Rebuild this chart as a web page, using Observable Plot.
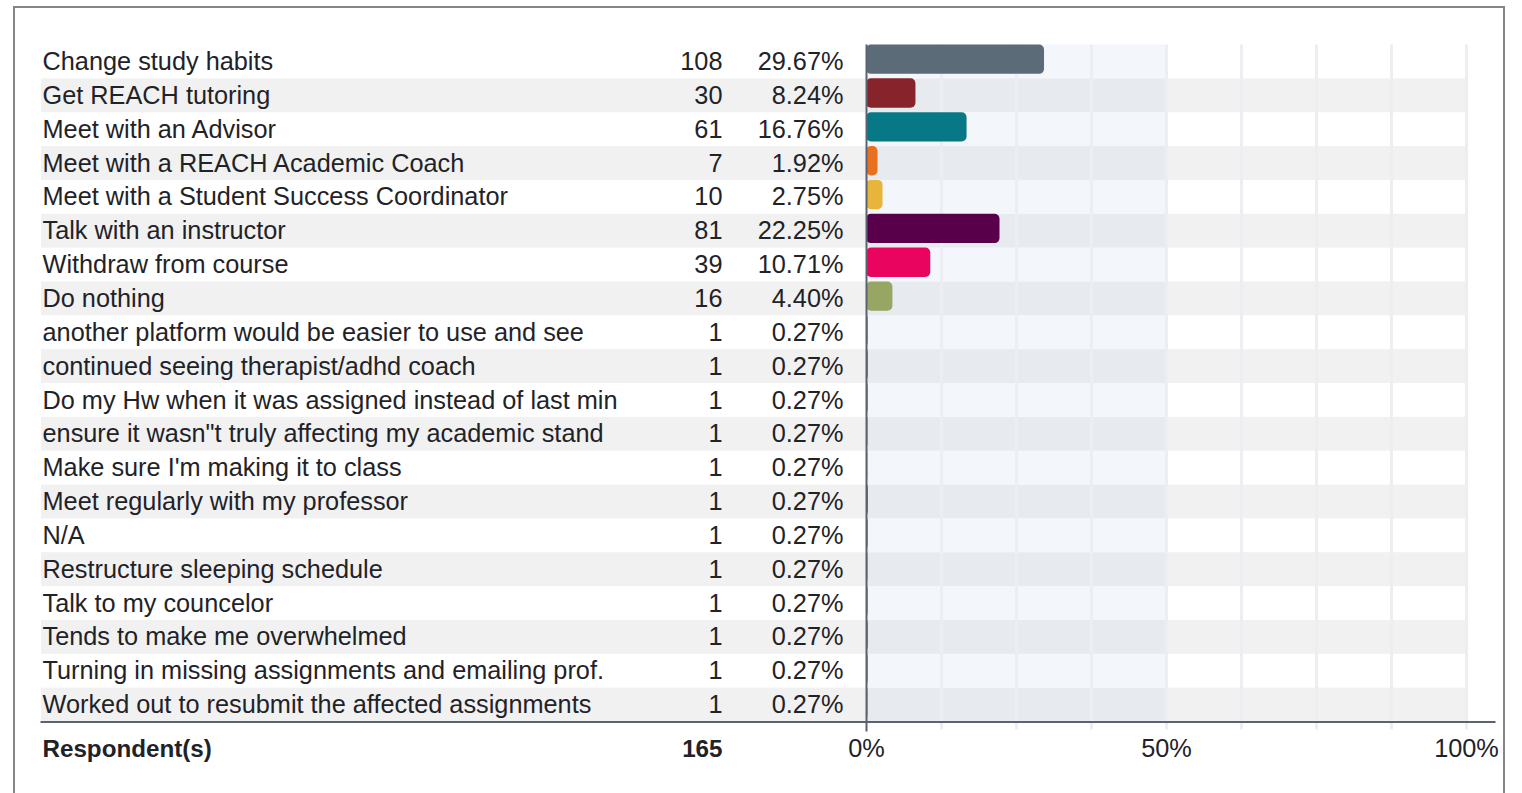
<!DOCTYPE html>
<html>
<head>
<meta charset="utf-8">
<script src="https://cdn.jsdelivr.net/npm/d3@7"></script>
<script src="https://cdn.jsdelivr.net/npm/@observablehq/plot@0.6"></script>
<style>
  html, body { margin: 0; padding: 0; background: #fff; overflow: hidden; }
  #wrap { position: relative; width: 1522px; height: 793px; }
  #border { position: absolute; left: 13px; top: 6px; width: 1492px; height: 900px;
            border: 2px solid #858585; box-sizing: border-box; }
  #chart { position: absolute; left: 0; top: 0; }
</style>
</head>
<body>
<div id="wrap"><div id="border"></div><div id="chart"></div></div>
<script>
const labels = [
  "Change study habits",
  "Get REACH tutoring",
  "Meet with an Advisor",
  "Meet with a REACH Academic Coach",
  "Meet with a Student Success Coordinator",
  "Talk with an instructor",
  "Withdraw from course",
  "Do nothing",
  "another platform would be easier to use and see",
  "continued seeing therapist/adhd coach",
  "Do my Hw when it was assigned instead of last min",
  "ensure it wasn\"t truly affecting my academic stand",
  "Make sure I'm making it to class",
  "Meet regularly with my professor",
  "N/A",
  "Restructure sleeping schedule",
  "Talk to my councelor",
  "Tends to make me overwhelmed",
  "Turning in missing assignments and emailing prof.",
  "Worked out to resubmit the affected assignments"
];
const counts = [108, 30, 61, 7, 10, 81, 39, 16, 1, 1, 1, 1, 1, 1, 1, 1, 1, 1, 1, 1];
const percents = [29.67, 8.24, 16.76, 1.92, 2.75, 22.25, 10.71, 4.40,
  0.27, 0.27, 0.27, 0.27, 0.27, 0.27, 0.27, 0.27, 0.27, 0.27, 0.27, 0.27];
const barColors = ["#5b6b78", "#87232b", "#077886", "#e8701f", "#e6b53a", "#58004a", "#e8045f", "#97a663",
  "#5b6b78", "#87232b", "#077886", "#e8701f", "#e6b53a", "#58004a", "#e8045f", "#97a663",
  "#5b6b78", "#87232b", "#077886", "#e8701f"];
const totalLabel = "Respondent(s)";
const totalRespondents = 165;
const axisTicks = [0, 50, 100];
const gridTicks = [12.5, 25, 37.5, 50, 62.5, 75, 87.5, 100];

const rows = labels.map((label, i) => ({label, count: counts[i], pct: percents[i], i}));
const oddRows = rows.filter(d => d.i % 2 === 1);
const evenRows = rows.filter(d => d.i % 2 === 0);

const FONT = "Liberation Sans, Arial, sans-serif";
const FS = 25.3;
const FSB = 24.2;
const TXT = "#1f2328";
const labelLeft = 41, zeroX = 866, fullX = 1466;

const chart = Plot.plot({
  width: 1522,
  height: 793,
  marginLeft: labelLeft,
  marginRight: 28,
  marginTop: 44.5,
  marginBottom: 71.5,
  style: {fontFamily: FONT, fontSize: FS + "px", color: TXT, background: "transparent", overflow: "visible"},
  x: {domain: [0, 100], range: [zeroX, fullX], axis: null},
  y: {domain: labels, padding: 0, round: false, axis: null},
  color: {domain: labels, range: barColors},
  marks: [
    // row stripes across label area and plot
    Plot.barX(oddRows, {y: "label", x1: 0, x2: 100, fill: "#f1f1f1", insetLeft: -(zeroX - labelLeft)}),
    Plot.barX(oddRows, {y: "label", x1: 0, x2: 50, fill: "#e7eaef"}),
    Plot.barX(evenRows, {y: "label", x1: 0, x2: 50, fill: "#f3f6fb"}),
    // grid
    Plot.ruleX(gridTicks, {x: d => d, stroke: "#eceef3", strokeWidth: 3, insetBottom: -8}),
    // bars
    Plot.barX(rows, {y: "label", x1: 0, x2: "pct", fill: "label", rx: 5, insetBottom: 4.5}),
    // zero line
    Plot.ruleX([0], {stroke: "#5a6372", strokeWidth: 2, insetBottom: -10}),
    // baseline
    Plot.frame({anchor: "bottom", stroke: "#5a6372", strokeWidth: 2}),
    // labels
    Plot.text(rows, {y: "label", text: "label", frameAnchor: "left", textAnchor: "start", dx: 1, fill: TXT, fontSize: FS}),
    Plot.text(rows, {y: "label", text: d => String(d.count), frameAnchor: "left", textAnchor: "end", dx: 722 - labelLeft, fill: TXT, fontSize: FS}),
    Plot.text(rows, {y: "label", text: d => d.pct.toFixed(2) + "%", frameAnchor: "left", textAnchor: "end", dx: 843 - labelLeft, fill: TXT, fontSize: FS}),
    // axis tick labels
    Plot.text(axisTicks, {x: d => d, text: d => d + "%", frameAnchor: "bottom", lineAnchor: "middle", dy: 27, fill: TXT, fontSize: FS}),
    // totals row
    Plot.text([totalLabel], {text: d => d, frameAnchor: "bottom-left", lineAnchor: "middle", textAnchor: "start", dx: 1, dy: 27, fill: TXT, fontWeight: "bold", fontSize: FSB}),
    Plot.text([totalRespondents], {text: d => String(d), frameAnchor: "bottom-left", lineAnchor: "middle", textAnchor: "end", dx: 722 - labelLeft, dy: 27, fill: TXT, fontWeight: "bold", fontSize: FSB})
  ]
});
document.getElementById("chart").appendChild(chart);
</script>
</body>
</html>
